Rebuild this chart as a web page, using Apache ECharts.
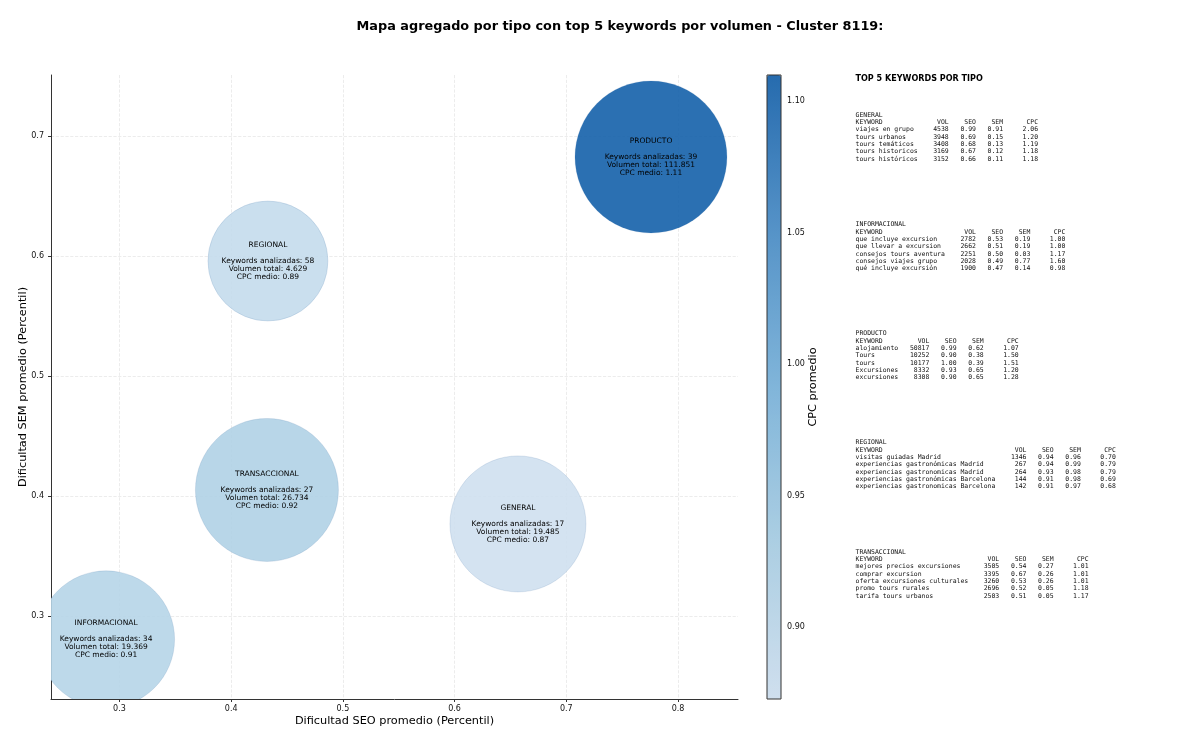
<!DOCTYPE html>
<html><head><meta charset="utf-8">
<style>html,body{margin:0;padding:0;background:#fff}#c{width:1200px;height:745px}</style>
<script src="https://cdn.jsdelivr.net/npm/echarts@6/dist/echarts.min.js"></script>
</head><body><div id="c"></div>
<script>
const tipos = ['GENERAL','INFORMACIONAL','PRODUCTO','REGIONAL','TRANSACCIONAL'];
const seoPromedio = [0.6567,0.288,0.7758,0.4329,0.432];
const semPromedio = [0.3767,0.2805,0.6825,0.5958,0.405];
const cpcMedio = [0.87,0.91,1.11,0.89,0.92];
const keywordsAnalizadas = [17,34,39,58,27];
const volumenTotal = ['19.485','19.369','111.851','4.629','26.734'];
const xTicks = [0.3,0.4,0.5,0.6,0.7,0.8];
const yTicks = [0.3,0.4,0.5,0.6,0.7];
const cbTicks = [0.90,0.95,1.00,1.05,1.10];

const topGeneral = [['viajes en grupo',4538,0.99,0.91,2.06],['tours urbanos',3948,0.69,0.15,1.20],['tours temáticos',3408,0.68,0.13,1.19],['tours historicos',3169,0.67,0.12,1.18],['tours históricos',3152,0.66,0.11,1.18]];
const topInformacional = [['que incluye excursion',2782,0.53,0.19,1.00],['que llevar a excursion',2662,0.51,0.19,1.00],['consejos tours aventura',2251,0.50,0.03,1.17],['consejos viajes grupo',2028,0.49,0.77,1.60],['qué incluye excursión',1900,0.47,0.14,0.98]];
const topProducto = [['alojamiento',50817,0.99,0.62,1.07],['Tours',10252,0.90,0.38,1.50],['tours',10177,1.00,0.39,1.51],['Excursiones',8332,0.93,0.65,1.20],['excursiones',8308,0.90,0.65,1.28]];
const topRegional = [['visitas guiadas Madrid',1346,0.94,0.96,0.70],['experiencias gastronómicas Madrid',267,0.94,0.99,0.79],['experiencias gastronomicas Madrid',264,0.93,0.98,0.79],['experiencias gastronómicas Barcelona',144,0.91,0.98,0.69],['experiencias gastronomicas Barcelona',142,0.91,0.97,0.68]];
const topTransaccional = [['mejores precios excursiones',3505,0.54,0.27,1.01],['comprar excursion',3395,0.67,0.26,1.01],['oferta excursiones culturales',3260,0.53,0.26,1.01],['promo tours rurales',2696,0.52,0.05,1.18],['tarifa tours urbanos',2503,0.51,0.05,1.17]];

// Presentation only
const bubbleRadius = {GENERAL:68,INFORMACIONAL:68.5,PRODUCTO:76,REGIONAL:60,TRANSACCIONAL:71.5};
const tableTop = {GENERAL:115,INFORMACIONAL:224.5,PRODUCTO:333.5,REGIONAL:442.5,TRANSACCIONAL:552};
const tables = {GENERAL:topGeneral,INFORMACIONAL:topInformacional,PRODUCTO:topProducto,REGIONAL:topRegional,TRANSACCIONAL:topTransaccional};
const LH = 7.35;
const font = 'DejaVu Sans';

function fmtRow(rows){
  const w = Math.max(...rows.map(r=>r[0].length));
  const out = ['KEYWORD'.padEnd(w)+'VOL'.padStart(8)+'SEO'.padStart(7)+'SEM'.padStart(7)+'CPC'.padStart(9)];
  rows.forEach(r=>out.push(r[0].padEnd(w)+String(r[1]).padStart(8)+r[2].toFixed(2).padStart(7)+r[3].toFixed(2).padStart(7)+r[4].toFixed(2).padStart(9)));
  return out;
}
const graphics = [{type:'text',x:855.5,y:78.5,style:{text:'TOP 5 KEYWORDS POR TIPO',font:'bold 8.07px "DejaVu Sans"',fill:'#000',textVerticalAlign:'middle'}}];
tipos.forEach(t=>{
  [t].concat(fmtRow(tables[t])).forEach((line,i)=>{
    graphics.push({type:'text',x:855.5,y:tableTop[t]+i*LH,style:{text:line,font:'6.46px "DejaVu Sans Mono"',fill:'#111',textVerticalAlign:'middle'}});
  });
});

const chart = echarts.init(document.getElementById('c'),null,{renderer:'canvas'});
const gridLine = {show:true,lineStyle:{color:'rgba(170,170,170,0.28)',type:'dashed',width:0.8}};
chart.setOption({
  animation:false,
  backgroundColor:'#fff',
  textStyle:{fontFamily:font},
  title:{text:'Mapa agregado por tipo con top 5 keywords por volumen - Cluster 8119:',left:615,textAlign:'center',top:15,textStyle:{fontFamily:font,fontWeight:'bold',fontSize:12.85,color:'#000'}},
  grid:[
    {left:51,top:75,width:687,height:624,containLabel:false},
    {left:767,top:75,width:14,height:624,show:true,backgroundColor:'transparent',borderColor:'#333',borderWidth:1,z:10}
  ],
  xAxis:[
    {type:'value',gridIndex:0,min:0.2387,max:0.8537,name:'Dificultad SEO promedio (Percentil)',nameLocation:'middle',nameMoveOverlap:false,nameGap:17,nameTextStyle:{fontSize:11.3,color:'#000',fontFamily:font},
     axisLine:{show:true,onZero:false,lineStyle:{color:'#333',width:1}},
     axisTick:{show:true,length:3,customValues:xTicks,lineStyle:{color:'#333'}},
     axisLabel:{customValues:xTicks,fontSize:8,color:'#111',margin:6,formatter:v=>v.toFixed(1)},
     splitLine:gridLine},
    {type:'value',gridIndex:1,min:0,max:1,show:false}
  ],
  yAxis:[
    {type:'value',gridIndex:0,min:0.2308,max:0.7508,name:'Dificultad SEM promedio (Percentil)',nameLocation:'middle',nameMoveOverlap:false,nameGap:22,nameTextStyle:{fontSize:11.3,color:'#000',fontFamily:font},
     axisLine:{show:true,onZero:false,lineStyle:{color:'#333',width:1}},
     axisTick:{show:true,length:3,customValues:yTicks,lineStyle:{color:'#333'}},
     axisLabel:{customValues:yTicks,fontSize:8,color:'#111',margin:7,formatter:v=>v.toFixed(1)},
     splitLine:gridLine},
    {type:'value',gridIndex:1,position:'right',min:0.8726,max:1.1099,name:'CPC promedio',nameLocation:'middle',nameMoveOverlap:false,nameGap:27,nameRotate:90,nameTextStyle:{fontSize:11.2,color:'#000',fontFamily:font},
     axisLine:{show:false},splitLine:{show:false},
     axisTick:{show:true,length:3,customValues:cbTicks,lineStyle:{color:'#333'}},
     axisLabel:{customValues:cbTicks,fontSize:8,color:'#111',margin:6,formatter:v=>v.toFixed(2)}}
  ],
  visualMap:{type:'continuous',seriesIndex:0,dimension:2,min:0.8726,max:1.1099,calculable:false,realtime:false,
    left:767,top:75,itemWidth:14,itemHeight:624,padding:0,showLabel:false,
    formatter:()=>'',textStyle:{fontSize:1,color:'transparent'},
    inRange:{color:['rgba(207,224,240,0.9)','rgba(168,206,228,0.9)','rgba(120,178,218,0.9)','rgba(72,140,198,0.9)','rgba(20,96,170,0.9)']}},
  series:[{
    type:'custom',xAxisIndex:0,yAxisIndex:0,clip:true,
    dimensions:['seo','sem','cpc','kw','idx'],
    encode:{x:0,y:1},
    data:tipos.map((t,i)=>[seoPromedio[i],semPromedio[i],cpcMedio[i],keywordsAnalizadas[i],i]),
    renderItem:(params,api)=>{
      const i = api.value(4), t = tipos[i];
      const c = api.coord([api.value(0),api.value(1)]);
      return {type:'group',children:[
        {type:'circle',shape:{cx:c[0],cy:c[1],r:bubbleRadius[t]},
         style:{fill:api.visual('color'),stroke:'rgba(60,110,160,0.3)',lineWidth:0.5}},
        {type:'text',x:c[0],y:c[1],
         style:{text:`${t}\n\nKeywords analizadas: ${api.value(3)}\nVolumen total: ${volumenTotal[i]}\nCPC medio: ${api.value(2).toFixed(2)}`,
           fill:'#000',font:'7.5px "DejaVu Sans"',lineHeight:8,align:'center',verticalAlign:'middle'}}
      ]};
    }
  }],
  graphic:{elements:graphics}
});
</script></body></html>
